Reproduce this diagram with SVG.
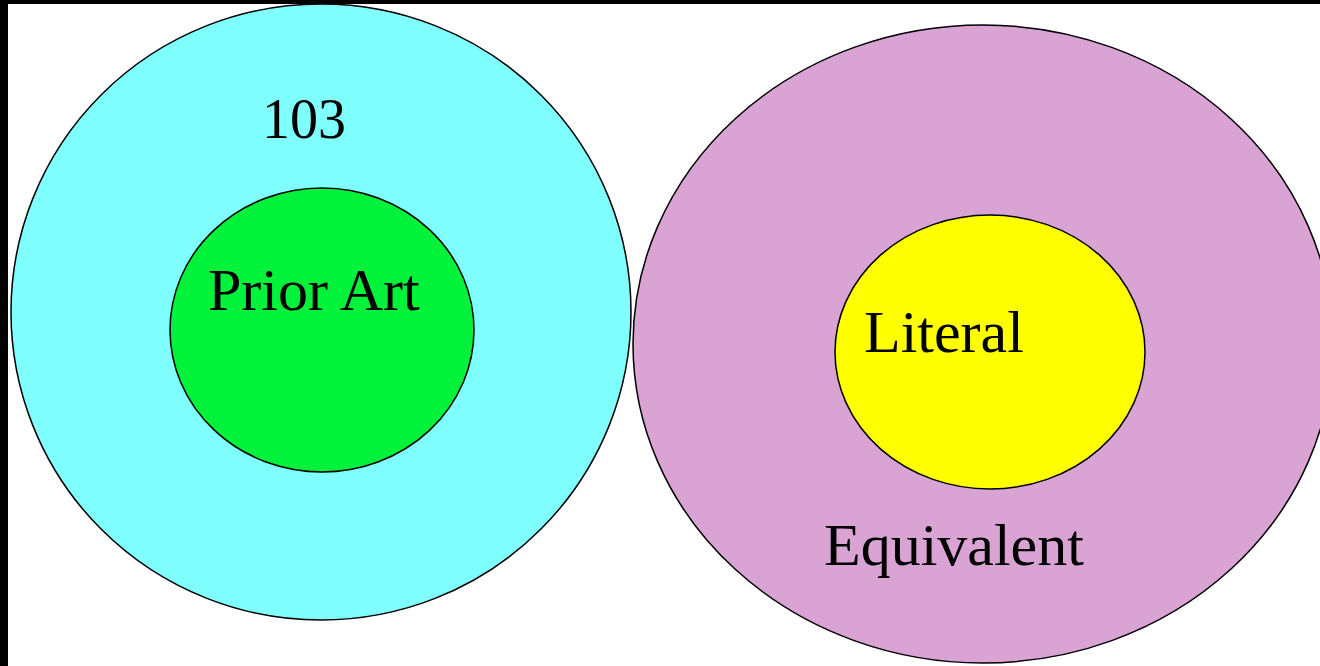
<svg xmlns="http://www.w3.org/2000/svg" width="1320" height="666" viewBox="0 0 1320 666">
<style>
.o{stroke:#000;stroke-width:1.5}
.t{font-family:"Liberation Serif","Times New Roman",serif;font-size:60px;fill:#000}
</style>
<rect x="0" y="0" width="1320" height="666" fill="#fff"/>
<g id="set-103">
<ellipse class="o" cx="321" cy="312" rx="310" ry="308" fill="#80ffff"/>
<text class="t" x="262" y="138" style="font-size:56px">103</text>
</g>
<g id="set-prior-art">
<ellipse class="o" cx="322" cy="330" rx="152" ry="142" fill="#00f23a"/>
<text class="t" x="208" y="310">Prior Art</text>
</g>
<g id="set-equivalent">
<ellipse class="o" cx="983" cy="344" rx="350" ry="319" fill="#d9a3d4"/>
<text class="t" x="824" y="565">Equivalent</text>
</g>
<g id="set-literal">
<ellipse class="o" cx="990" cy="352" rx="155" ry="137" fill="#ffff00"/>
<text class="t" x="864" y="352">Literal</text>
</g>
<g id="connectors"></g>
<rect x="0" y="0" width="1320" height="4" fill="#000"/>
<rect x="0" y="0" width="8" height="666" fill="#000"/>
</svg>
